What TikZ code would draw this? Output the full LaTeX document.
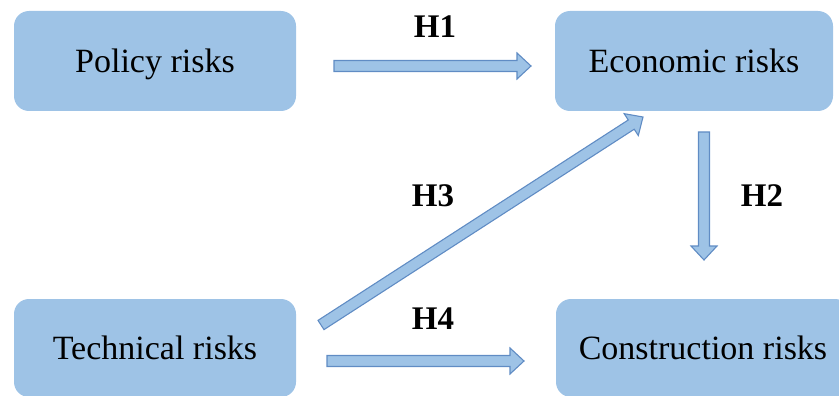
\documentclass[tikz,border=0pt]{standalone}
\usepackage{fontspec}
\setmainfont{Liberation Serif}
\usetikzlibrary{calc}

\definecolor{boxfill}{RGB}{158,195,230}
\definecolor{arrowline}{RGB}{96,140,196}

% shaft half-width, head half-width, head length of the block arrows
\newcommand{\bsw}{5.5pt}
\newcommand{\bhw}{13pt}
\newcommand{\bhl}{14pt}

\tikzset{
  riskbox/.style={fill=boxfill, draw=none, rounded corners=15pt,
    minimum width=282pt, minimum height=100pt, inner sep=0pt,
    font=\fontsize{34}{40}\selectfont, text height=22.5pt, text depth=0pt},
  hyplabel/.style={font=\fontsize{33}{38}\selectfont\bfseries,
    inner sep=0pt, text height=22pt, text depth=0pt},
  blockarrow/.style={draw=arrowline, fill=boxfill, line width=1.1pt, line join=miter,
    to path={
      ($(\tikztostart)!\bsw!90:(\tikztotarget)$)
      -- ($(\tikztotarget)!\bhl!(\tikztostart)!\bsw!-90:(\tikztostart)$)
      -- ($(\tikztotarget)!\bhl!(\tikztostart)!\bhw!-90:(\tikztostart)$)
      -- (\tikztotarget)
      -- ($(\tikztotarget)!\bhl!(\tikztostart)!\bhw!90:(\tikztostart)$)
      -- ($(\tikztotarget)!\bhl!(\tikztostart)!\bsw!90:(\tikztostart)$)
      -- ($(\tikztostart)!\bsw!-90:(\tikztotarget)$)
      -- cycle}}
}

\begin{document}
\begin{tikzpicture}[x=1pt, y=-1pt]
  \path[use as bounding box, clip] (0,0) rectangle (839,396);

  % risk boxes
  \node[riskbox] (policy) at (155,61) {Policy risks};
  \node[riskbox, minimum width=278pt] (econ) at (694,61) {Economic risks};
  \node[riskbox, minimum height=98pt] (tech) at (155,348) {Technical risks};
  \node[riskbox, minimum width=294pt, minimum height=98pt] (constr) at (703,348) {Construction risks};

  % arrow end points
  \coordinate (h1a) at (334,66);  \coordinate (h1b) at (531,66);
  \coordinate (h2a) at (704,132); \coordinate (h2b) at (704,260);
  \coordinate (h3a) at (321,325); \coordinate (h3b) at (643,117);
  \coordinate (h4a) at (327,361); \coordinate (h4b) at (524,361);

  % hypothesis arrows
  \draw[blockarrow] (h1a) to (h1b);
  \draw[blockarrow] (h2a) to (h2b);
  \draw[blockarrow] (h3a) to (h3b);
  \draw[blockarrow] (h4a) to (h4b);

  % hypothesis labels
  \node[hyplabel] (l1) at (435,27) {H1};
  \node[hyplabel] (l2) at (762,195) {H2};
  \node[hyplabel] (l3) at (433,195) {H3};
  \node[hyplabel] (l4) at (433,318) {H4};
\end{tikzpicture}
\end{document}
